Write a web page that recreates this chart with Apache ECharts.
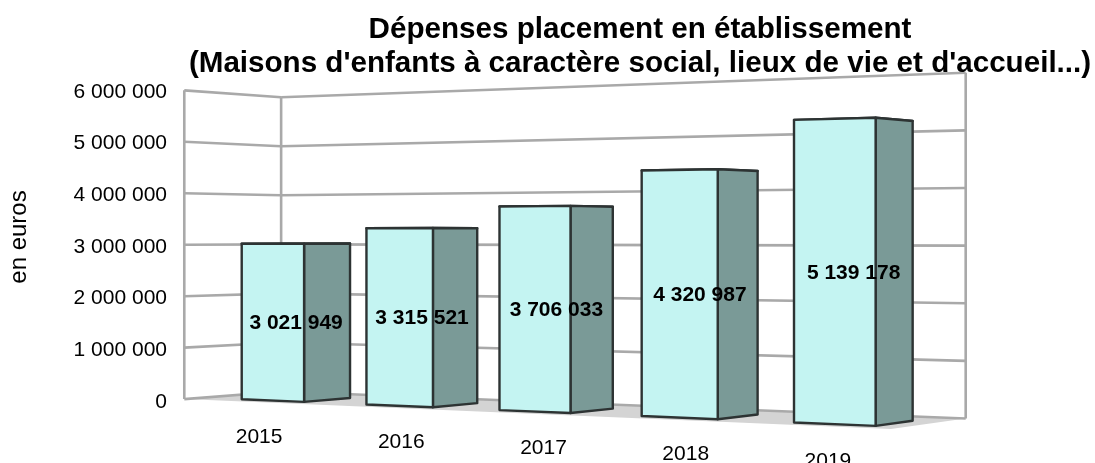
<!DOCTYPE html>
<html>
<head>
<meta charset="utf-8">
<script src="https://cdn.jsdelivr.net/npm/echarts/dist/echarts.min.js"></script>
<style>
  html, body { margin: 0; padding: 0; background: #ffffff; }
  #chart { width: 1095px; height: 463px; }
</style>
</head>
<body>
<div id="chart"></div>
<script>
// Chart data
const years = ['2015', '2016', '2017', '2018', '2019'];
const expenses = [3021949, 3315521, 3706033, 4320987, 5139178];
const valueTicks = [0, 1000000, 2000000, 3000000, 4000000, 5000000, 6000000];
const titleLines = ['Dépenses placement en établissement',
  "(Maisons d'enfants à caractère social, lieux de vie et d'accueil...)"];
const unitLabel = 'en euros';

const FONT = "'Liberation Sans', Arial, sans-serif";

// 3D view: one world unit equals 1 000 000 € of height.
const view = {
  yaw: 32.25 * Math.PI / 180,
  focal: 2655,
  cx: 575,
  horizon: 237,
  eye: 3.15,
  camX: 33.95,
  camZ: -39.58
};
// Box layout: walls, floor, and where the category band and bars sit in depth.
const box = {
  wallLeft: 0, wallRight: 15.1, depth: 3,
  bandStart: 0.24, bandEnd: 15.3,
  barWidth: 1.53, barFront: 0.55, barBack: 2.0
};

function project(X, Y, Z) {
  const c = Math.cos(view.yaw), s = Math.sin(view.yaw);
  const dx = X - view.camX, dz = Z - view.camZ;
  const xc = dx * c + dz * s;
  const zc = -dx * s + dz * c;
  return [view.cx + view.focal * xc / zc, view.horizon - view.focal * (Y - view.eye) / zc];
}

// Category axis pixel -> world X
function worldX(px, rect) {
  return box.bandStart + (px - rect.x) / rect.width * (box.bandEnd - box.bandStart);
}
// Value -> world height, through the value axis scale
function worldY(api, v) {
  const unit = api.size([0, 1000000])[1];
  return (api.coord([0, 0])[1] - api.coord([0, v])[1]) / unit;
}

function fmt(v) {
  return String(v).replace(/\B(?=(\d{3})+(?!\d))/g, ' ');
}

const GRID_COLOR = '#a9a9a9';
function seg(a, b) {
  return { type: 'line', shape: { x1: a[0], y1: a[1], x2: b[0], y2: b[1] },
    style: { stroke: GRID_COLOR, lineWidth: 2.6 } };
}

function renderWalls(params, api) {
  const v = api.value(1);
  const Y = worldY(api, v);
  const L = box.wallLeft, R = box.wallRight, D = box.depth;
  const children = [];
  if (params.dataIndex === 0) {
    const top = worldY(api, valueTicks[valueTicks.length - 1]);
    children.push({ type: 'polygon',
      shape: { points: [project(L, 0, 0), project(R, 0, 0), project(R, 0, D), project(L, 0, D)] },
      style: { fill: '#d4d4d4' } });
    children.push(seg(project(L, 0, 0), project(L, top, 0)));
    children.push(seg(project(L, 0, D), project(L, top, D)));
    children.push(seg(project(R, 0, D), project(R, top, D)));
  }
  children.push(seg(project(L, Y, 0), project(L, Y, D)));
  children.push(seg(project(L, Y, D), project(R, Y, D)));
  return { type: 'group', children };
}

function renderBar(params, api) {
  const rect = params.coordSys;
  const i = api.value(0), v = api.value(1);
  const base = api.coord([i, 0]);
  const Xc = worldX(base[0], rect);
  const H = worldY(api, v);
  const x0 = Xc - box.barWidth / 2, x1 = Xc + box.barWidth / 2;
  const z0 = box.barFront, z1 = box.barBack;
  const edge = { stroke: '#2d3333', lineWidth: 2.4, lineJoin: 'round' };
  const top = { type: 'polygon',
    shape: { points: [project(x0, H, z0), project(x1, H, z0), project(x1, H, z1), project(x0, H, z1)] },
    style: Object.assign({ fill: '#c4f4f2' }, edge) };
  const side = { type: 'polygon',
    shape: { points: [project(x1, 0, z0), project(x1, H, z0), project(x1, H, z1), project(x1, 0, z1)] },
    style: Object.assign({ fill: '#7a9a97' }, edge) };
  const front = { type: 'polygon',
    shape: { points: [project(x0, 0, z0), project(x1, 0, z0), project(x1, H, z0), project(x0, H, z0)] },
    style: Object.assign({ fill: '#c4f4f2' }, edge) };
  const mid = project(Xc, H / 2, (z0 + z1) / 2);
  const valueText = { type: 'text', x: mid[0], y: mid[1] + 2,
    style: { text: fmt(v), font: 'bold 21px ' + FONT, fill: '#000000',
      align: 'center', verticalAlign: 'middle', textAlign: 'center', textVerticalAlign: 'middle' } };
  const floorFront = project(Xc, 0, 0);
  const catText = { type: 'text', x: base[0], y: floorFront[1] + 35,
    style: { text: years[i], font: '21px ' + FONT, fill: '#000000',
      align: 'center', verticalAlign: 'middle', textAlign: 'center', textVerticalAlign: 'middle' } };
  return { type: 'group', children: [top, side, front, valueText, catText] };
}

const chart = echarts.init(document.getElementById('chart'), null, { renderer: 'canvas' });
chart.setOption({
  animation: false,
  backgroundColor: '#ffffff',
  title: {
    text: titleLines.join('\n'),
    left: 640, top: 13, textAlign: 'center', padding: 0,
    textStyle: { fontFamily: FONT, fontSize: 29.6, fontWeight: 'bold', color: '#000000', lineHeight: 34 }
  },
  graphic: [{
    type: 'text', x: 19, y: 237, rotation: Math.PI / 2,
    style: { text: unitLabel, font: '24px ' + FONT, fill: '#000000',
      align: 'center', verticalAlign: 'middle', textAlign: 'center', textVerticalAlign: 'middle' }
  }],
  grid: { left: 188, top: 92, width: 711, height: 310, containLabel: false, outerBoundsMode: 'none' },
  xAxis: {
    type: 'category', data: years,
    axisLine: { show: false }, axisTick: { show: false }, axisLabel: { show: false }, splitLine: { show: false }
  },
  yAxis: {
    type: 'value', min: 0, max: 6000000, interval: 1000000,
    axisLine: { show: false }, axisTick: { show: false }, splitLine: { show: false },
    axisLabel: { formatter: fmt, fontFamily: FONT, fontSize: 21, color: '#000000', margin: 21 }
  },
  series: [
    { type: 'custom', name: 'walls', z: 1, silent: true,
      data: valueTicks.map(v => [0, v]), encode: { x: 0, y: 1 }, renderItem: renderWalls },
    { type: 'custom', name: 'Dépenses', z: 2,
      data: expenses.map((v, i) => [i, v]), encode: { x: 0, y: 1 }, renderItem: renderBar }
  ]
});
</script>
</body>
</html>
